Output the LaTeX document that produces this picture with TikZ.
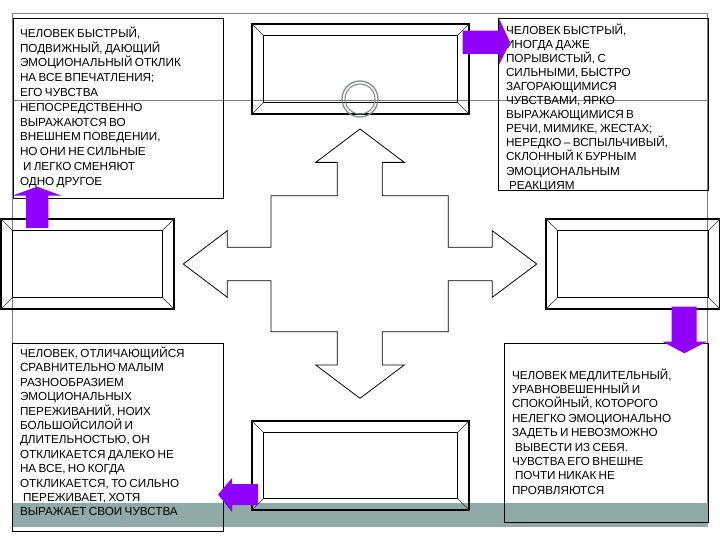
\documentclass[tikz,border=0pt]{standalone}
\usepackage{fontspec}
\setmainfont{Liberation Sans}
\definecolor{purp}{RGB}{143,0,255}
\definecolor{barc}{RGB}{143,170,168}
\definecolor{ringc}{RGB}{122,145,140}
\definecolor{framec}{RGB}{128,128,128}
\newcommand\txtblock[2]{\parbox[t]{230pt}{\fontsize{11.7pt}{#1}\selectfont\spaceskip=2.4pt\relax\raggedright #2}}
\newcommand\ind{\hspace*{3pt}}
\tikzset{
  tbox/.style={draw=black, line width=0.9pt, rectangle, inner sep=0pt, outer sep=0pt},
  fout/.style={draw=black, line width=1.1pt, rectangle, inner sep=0pt, outer sep=0pt},
  fin/.style={draw=black, line width=1.1pt, rectangle, inner sep=0pt, outer sep=0pt},
  diag/.style={draw=black!80, line width=0.5pt},
  txt/.style={inner sep=0pt, outer sep=0pt, anchor=base west},
  parrow/.style={fill=purp, draw=none},
  guide/.style={draw=framec, line width=0.7pt},
}
\newcommand\bevel[6]{%
  \node[fout, minimum width=#4pt, minimum height=#5pt] (#1o) at (#2,#3) {};
  \node[fin, minimum width=#4pt-2*#6pt, minimum height=#5pt-2*#6pt] (#1i) at (#2,#3) {};
  \draw[diag] (#1o.north west) -- (#1i.north west);
  \draw[diag] (#1o.north east) -- (#1i.north east);
  \draw[diag] (#1o.south west) -- (#1i.south west);
  \draw[diag] (#1o.south east) -- (#1i.south east);
}
\begin{document}
\begin{tikzpicture}[x=1pt,y=-1pt]
\useasboundingbox (0,0) rectangle (720,540);
% background guides
\fill[barc] (12,503) rectangle (708,527);
\draw[guide] (12,503) -- (12,13) -- (707.5,13) -- (707.5,503);
\draw[guide] (12,100) -- (707.5,100);

% text boxes
\node[tbox, minimum width=210pt, minimum height=180pt] (tl) at (118,108) {};
\node[tbox, minimum width=210pt, minimum height=172pt] (tr) at (603,104) {};
\node[tbox, minimum width=211pt, minimum height=188pt] (bl) at (117.5,437) {};
\node[tbox, minimum width=204pt, minimum height=179pt] (br) at (606,432.5) {};

% bevel frames
\bevel{top}{360.5}{69}{217}{90}{11.5}
\bevel{lft}{87.5}{264}{173}{90}{11.5}
\bevel{rgt}{633}{264}{174}{90}{11.5}
\bevel{bot}{360.5}{465.5}{217}{89}{11.2}

% ring
\node[circle, draw=ringc, line width=1.3pt, minimum size=36pt, inner sep=0pt] (ringo) at (360,99) {};
\node[circle, draw=ringc, line width=1.1pt, minimum size=30pt, inner sep=0pt] (ringi) at (360,99) {};

% central cross
\draw[black, line width=0.8pt, line join=miter]
  (360,129) -- (404.3,162.4) -- (382.3,162.4) -- (382.3,195.7) -- (448.3,195.7)
  -- (448.3,247.3) -- (492.3,247.3) -- (492.3,230.7) -- (536.7,264) -- (492.3,297.3)
  -- (492.3,280.7) -- (448.3,280.7) -- (448.3,331.7) -- (382.3,331.7) -- (382.3,365)
  -- (404.3,365) -- (360,398.3) -- (315.7,365) -- (337.3,365) -- (337.3,331.7)
  -- (271,331.7) -- (271,280.7) -- (227.3,280.7) -- (227.3,297.3) -- (183.3,264)
  -- (227.3,230.7) -- (227.3,247.3) -- (271,247.3) -- (271,195.7) -- (337.3,195.7)
  -- (337.3,162.4) -- (315.7,162.4) -- cycle;

% texts
\node[txt] (tltext) at (20,37.4) {\txtblock{14.8pt}{%
ЧЕЛОВЕК БЫСТРЫЙ,\\
ПОДВИЖНЫЙ, ДАЮЩИЙ\\
ЭМОЦИОНАЛЬНЫЙ ОТКЛИК\\
НА ВСЕ ВПЕЧАТЛЕНИЯ;\\
ЕГО ЧУВСТВА\\
НЕПОСРЕДСТВЕННО\\
ВЫРАЖАЮТСЯ ВО\\
ВНЕШНЕМ ПОВЕДЕНИИ,\\
НО ОНИ НЕ СИЛЬНЫЕ\\
\ind И ЛЕГКО СМЕНЯЮТ\\
ОДНО ДРУГОЕ}};

\node[txt] (trtext) at (506,34.1) {\txtblock{14.1pt}{%
ЧЕЛОВЕК БЫСТРЫЙ,\\
ИНОГДА ДАЖЕ\\
ПОРЫВИСТЫЙ, С\\
СИЛЬНЫМИ, БЫСТРО\\
ЗАГОРАЮЩИМИСЯ\\
ЧУВСТВАМИ, ЯРКО\\
ВЫРАЖАЮЩИМИСЯ В\\
РЕЧИ, МИМИКЕ, ЖЕСТАХ;\\
НЕРЕДКО – ВСПЫЛЬЧИВЫЙ,\\
СКЛОННЫЙ К БУРНЫМ\\
ЭМОЦИОНАЛЬНЫМ\\
\ind РЕАКЦИЯМ}};

\node[txt] (bltext) at (20,357.4) {\txtblock{14.4pt}{%
ЧЕЛОВЕК, ОТЛИЧАЮЩИЙСЯ\\
СРАВНИТЕЛЬНО МАЛЫМ\\
РАЗНООБРАЗИЕМ\\
ЭМОЦИОНАЛЬНЫХ\\
ПЕРЕЖИВАНИЙ, НОИХ\\
БОЛЬШОЙСИЛОЙ И\\
ДЛИТЕЛЬНОСТЬЮ, ОН\\
ОТКЛИКАЕТСЯ ДАЛЕКО НЕ\\
НА ВСЕ, НО КОГДА\\
ОТКЛИКАЕТСЯ, ТО СИЛЬНО\\
\ind ПЕРЕЖИВАЕТ, ХОТЯ\\
ВЫРАЖАЕТ СВОИ ЧУВСТВА}};

\node[txt] (brtext) at (512,379.1) {\txtblock{14.4pt}{%
ЧЕЛОВЕК МЕДЛИТЕЛЬНЫЙ,\\
УРАВНОВЕШЕННЫЙ И\\
СПОКОЙНЫЙ, КОТОРОГО\\
НЕЛЕГКО ЭМОЦИОНАЛЬНО\\
ЗАДЕТЬ И НЕВОЗМОЖНО\\
\ind ВЫВЕСТИ ИЗ СЕБЯ.\\
ЧУВСТВА ЕГО ВНЕШНЕ\\
\ind ПОЧТИ НИКАК НЕ\\
ПРОЯВЛЯЮТСЯ}};

% purple arrows
\fill[parrow] (462.7,30.7) -- (499,30.7) -- (499,18.3) -- (510,42.3) -- (499,65) -- (499,54) -- (462.7,54) -- cycle;
\fill[parrow] (26,228) -- (26,195.7) -- (12.3,195.7) -- (37,186.7) -- (61.7,195.7) -- (48.3,195.7) -- (48.3,228) -- cycle;
\fill[parrow] (671.7,306.7) -- (696.7,306.7) -- (696.7,341.7) -- (706.7,341.7) -- (684.3,353.3) -- (662.7,341.7) -- (671.7,341.7) -- cycle;
\fill[parrow] (258,484) -- (258,505) -- (232,505) -- (232,512) -- (218,494.5) -- (232,478) -- (232,484) -- cycle;
\end{tikzpicture}
\end{document}
